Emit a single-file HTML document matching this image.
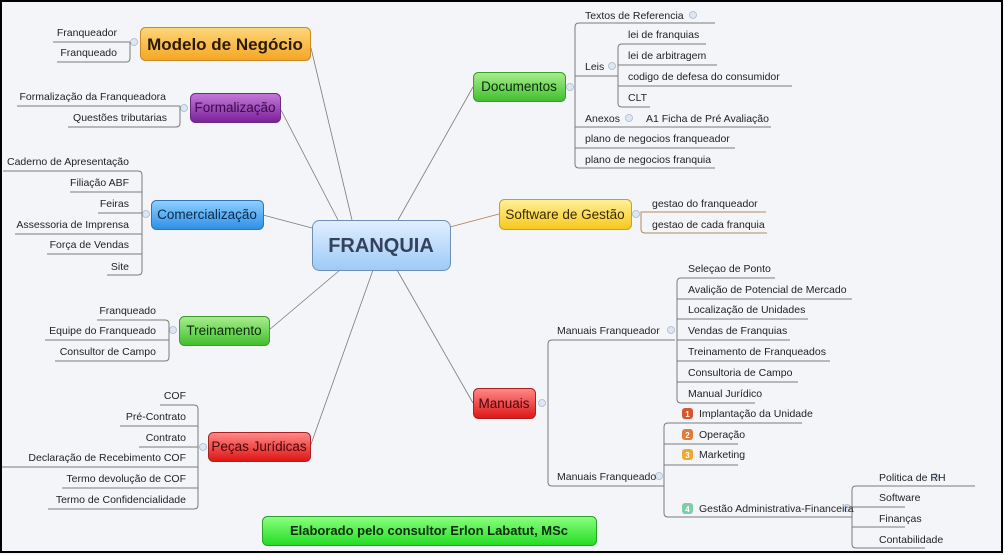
<!DOCTYPE html>
<html><head><meta charset="utf-8"><style>
html,body{margin:0;padding:0;background:#f3f5f9;}
svg{display:block;}
text{font-family:"Liberation Sans",sans-serif;font-size:10.5px;fill:#222;}
.l{stroke:#7a7a7a;stroke-width:1;fill:none;}
.c{stroke:#7a7a7a;stroke-width:0.8;fill:none;}
.n{font-size:13.5px;}
</style></head><body>
<svg width="1004" height="555" viewBox="0 0 1004 555" xmlns="http://www.w3.org/2000/svg">
<defs>
<linearGradient id="gb" x1="0" y1="0" x2="0" y2="1"><stop offset="0" stop-color="#e2efff"/><stop offset="1" stop-color="#9ccaf6"/></linearGradient>
<linearGradient id="go" x1="0" y1="0" x2="0" y2="1"><stop offset="0" stop-color="#fdd67a"/><stop offset="1" stop-color="#f5a623"/></linearGradient>
<linearGradient id="gp" x1="0" y1="0" x2="0" y2="1"><stop offset="0" stop-color="#c47ad8"/><stop offset="1" stop-color="#7a1f9a"/></linearGradient>
<linearGradient id="gc" x1="0" y1="0" x2="0" y2="1"><stop offset="0" stop-color="#8fd0ff"/><stop offset="1" stop-color="#2d8fe6"/></linearGradient>
<linearGradient id="gg" x1="0" y1="0" x2="0" y2="1"><stop offset="0" stop-color="#a8ee8c"/><stop offset="1" stop-color="#3fbf2c"/></linearGradient>
<linearGradient id="gr" x1="0" y1="0" x2="0" y2="1"><stop offset="0" stop-color="#ff8a8a"/><stop offset="1" stop-color="#de1414"/></linearGradient>
<linearGradient id="gy" x1="0" y1="0" x2="0" y2="1"><stop offset="0" stop-color="#fff19a"/><stop offset="1" stop-color="#f7c81c"/></linearGradient>
<linearGradient id="gf" x1="0" y1="0" x2="0" y2="1"><stop offset="0" stop-color="#8cff80"/><stop offset="1" stop-color="#22dd22"/></linearGradient>
</defs>
<rect x="0" y="0" width="1004" height="555" fill="#f3f5f9"/>

<g class="c">
<line x1="311" y1="48" x2="352" y2="220"/>
<line x1="281" y1="110" x2="338" y2="220"/>
<line x1="263" y1="215" x2="312" y2="228"/>
<line x1="269" y1="330" x2="340" y2="270"/>
<line x1="310" y1="447" x2="373" y2="270"/>
<line x1="473" y1="87" x2="398" y2="220"/>
<line x1="499" y1="214" x2="450" y2="227" stroke="#b07a50"/>
<line x1="473" y1="403" x2="397" y2="270"/>
</g>

<rect x="312.5" y="220.5" width="138" height="50" rx="7" fill="url(#gb)" stroke="#6f8fb5"/>
<text x="381" y="252" text-anchor="middle" style="font-size:20px;font-weight:bold;fill:#34435c">FRANQUIA</text>

<rect x="140.5" y="27.5" width="170" height="33" rx="5" fill="url(#go)" stroke="#c98a2a"/>
<text x="225" y="50" text-anchor="middle" style="font-size:17px;font-weight:bold;fill:#2a1a05">Modelo de Negócio</text>
<rect x="190.5" y="93.5" width="90" height="29" rx="5" fill="url(#gp)" stroke="#6a2a85"/>
<text x="235" y="112" text-anchor="middle" class="n" style="fill:#3a0a4a">Formalização</text>
<rect x="151.5" y="200.5" width="112" height="29" rx="5" fill="url(#gc)" stroke="#2f74b5"/>
<text x="207" y="219" text-anchor="middle" class="n" style="fill:#0a2a4a">Comercialização</text>
<rect x="179.5" y="316.5" width="90" height="29" rx="5" fill="url(#gg)" stroke="#3c9a30"/>
<text x="224" y="335" text-anchor="middle" class="n" style="fill:#0a2a0a">Treinamento</text>
<rect x="208.5" y="432.5" width="102" height="29" rx="5" fill="url(#gr)" stroke="#a82020"/>
<text x="259" y="451" text-anchor="middle" class="n" style="fill:#4a0505">Peças Jurídicas</text>
<rect x="473.5" y="72.5" width="92" height="29" rx="5" fill="url(#gg)" stroke="#3c9a30"/>
<text x="519" y="91" text-anchor="middle" class="n" style="fill:#0a2a0a">Documentos</text>
<rect x="499.5" y="199.5" width="132" height="30" rx="5" fill="url(#gy)" stroke="#c9a020"/>
<text x="565" y="219" text-anchor="middle" class="n" style="fill:#3a2a00">Software de Gestão</text>
<rect x="473.5" y="388.5" width="62" height="30" rx="5" fill="url(#gr)" stroke="#a82020"/>
<text x="504" y="408" text-anchor="middle" class="n" style="fill:#4a0505">Manuais</text>
<rect x="262.5" y="516.5" width="334" height="29" rx="5" fill="url(#gf)" stroke="#2aa02a"/>
<text x="429" y="535" text-anchor="middle" style="font-size:13px;font-weight:bold;fill:#0a2a0a">Elaborado pelo consultor Erlon Labatut, MSc</text>

<g fill="#dde6f2" stroke="#a8b8cc" stroke-width="0.8">
<circle cx="134" cy="42" r="3.5"/><circle cx="184" cy="108" r="3.5"/><circle cx="146" cy="214" r="3.5"/>
<circle cx="173" cy="330" r="3.5"/><circle cx="203" cy="447" r="3.5"/><circle cx="570" cy="87" r="3.5"/>
<circle cx="636" cy="214" r="3.5"/><circle cx="542" cy="403" r="3.5"/><circle cx="693" cy="15" r="3.5"/>
<circle cx="612" cy="66" r="3.5"/><circle cx="629" cy="118" r="3.5"/><circle cx="671" cy="330" r="3.5"/>
<circle cx="659" cy="476" r="3.5"/><circle cx="847" cy="508" r="3.5"/><circle cx="935" cy="477" r="3.5"/>
</g>

<g class="l"><path d="M53 42H130M57 62H126Q130 62 130 58V42"/></g>
<text x="117" y="36" text-anchor="end">Franqueador</text>
<text x="117" y="56" text-anchor="end">Franqueado</text>

<g class="l"><path d="M17 106H180M68 127H176Q180 127 180 123V106"/></g>
<text x="166" y="100" text-anchor="end">Formalização da Franqueadora</text>
<text x="167" y="121" text-anchor="end">Questões tributarias</text>

<g class="l"><path d="M3 171H138Q142 171 142 175V271Q142 275 138 275H107M70 192H142M98 213H142M15 234H142M47 254H142"/></g>
<text x="129" y="165" text-anchor="end">Caderno de Apresentação</text>
<text x="129" y="186" text-anchor="end">Filiação ABF</text>
<text x="129" y="207" text-anchor="end">Feiras</text>
<text x="129" y="228" text-anchor="end">Assessoria de Imprensa</text>
<text x="129" y="248" text-anchor="end">Força de Vendas</text>
<text x="129" y="270" text-anchor="end">Site</text>

<g class="l"><path d="M97 320H165Q169 320 169 324V357Q169 361 165 361H55M45 340H169"/></g>
<text x="156" y="314" text-anchor="end">Franqueado</text>
<text x="156" y="334" text-anchor="end">Equipe do Franqueado</text>
<text x="156" y="355" text-anchor="end">Consultor de Campo</text>

<g class="l"><path d="M160 405H194Q198 405 198 409V505Q198 509 194 509H48M120 426H198M139 447H198M0 467H198M62 488H198"/></g>
<text x="186" y="399" text-anchor="end">COF</text>
<text x="186" y="420" text-anchor="end">Pré-Contrato</text>
<text x="186" y="441" text-anchor="end">Contrato</text>
<text x="186" y="461" text-anchor="end">Declaração de Recebimento COF</text>
<text x="186" y="482" text-anchor="end">Termo devolução de COF</text>
<text x="186" y="503" text-anchor="end">Termo de Confidencialidade</text>

<g class="l"><path d="M715 23H579Q575 23 575 27V164Q575 168 579 168H715M575 76H618M575 127H771M575 148H735
M706 44H622Q618 44 618 48V103Q618 107 622 107H650M618 65H717M618 86H792"/></g>
<text x="585" y="19">Textos de Referencia</text>
<text x="585" y="70">Leis</text>
<text x="628" y="38">lei de franquias</text>
<text x="628" y="59">lei de arbitragem</text>
<text x="628" y="80">codigo de defesa do consumidor</text>
<text x="628" y="101">CLT</text>
<text x="585" y="122">Anexos</text>
<text x="646" y="122">A1 Ficha de Pré Avaliação</text>
<text x="585" y="142">plano de negocios franqueador</text>
<text x="585" y="163">plano de negocios franquia</text>

<g class="l" style="stroke:#b08a60"><path d="M766 212H641V229Q641 233 645 233H767"/></g>
<text x="652" y="207">gestao do franqueador</text>
<text x="652" y="228">gestao de cada franquia</text>

<g class="l"><path d="M675 340H552Q548 340 548 344V482Q548 486 552 486H664
M775 278H681Q677 278 677 282V399Q677 403 681 403H755M677 299H852M677 319H808M677 361H830M677 382H798M677 340H790
M802 423H668Q664 423 664 427V513Q664 517 668 517H852M664 444H738M664 465H738
M975 486H856Q852 486 852 490V544Q852 548 856 548H925M852 507H905M852 527H905"/></g>
<text x="557" y="334">Manuais Franqueador</text>
<text x="688" y="272">Seleçao de Ponto</text>
<text x="688" y="293">Avalição de Potencial de Mercado</text>
<text x="688" y="313">Localização de Unidades</text>
<text x="688" y="334">Vendas de Franquias</text>
<text x="688" y="355">Treinamento de Franqueados</text>
<text x="688" y="376">Consultoria de Campo</text>
<text x="688" y="397">Manual Jurídico</text>
<text x="557" y="480">Manuais Franqueado</text>
<rect x="682" y="408" width="11" height="11" rx="3" fill="#d9542f"/><text x="687.5" y="417" text-anchor="middle" style="font-size:8px;fill:#fff;font-weight:bold">1</text>
<text x="699" y="417">Implantação da Unidade</text>
<rect x="682" y="429" width="11" height="11" rx="3" fill="#e07b39"/><text x="687.5" y="438" text-anchor="middle" style="font-size:8px;fill:#fff;font-weight:bold">2</text>
<text x="699" y="438">Operação</text>
<rect x="682" y="449" width="11" height="11" rx="3" fill="#efa830"/><text x="687.5" y="458" text-anchor="middle" style="font-size:8px;fill:#fff;font-weight:bold">3</text>
<text x="699" y="458">Marketing</text>
<rect x="682" y="503" width="11" height="11" rx="3" fill="#7fcca8"/><text x="687.5" y="512" text-anchor="middle" style="font-size:8px;fill:#fff;font-weight:bold">4</text>
<text x="699" y="512">Gestão Administrativa-Financeira</text>
<text x="879" y="481">Politica de RH</text>
<text x="879" y="501">Software</text>
<text x="879" y="522">Finanças</text>
<text x="879" y="543">Contabilidade</text>

<rect x="1" y="1" width="1001" height="551" fill="none" stroke="#000" stroke-width="2"/>
</svg>
</body></html>
